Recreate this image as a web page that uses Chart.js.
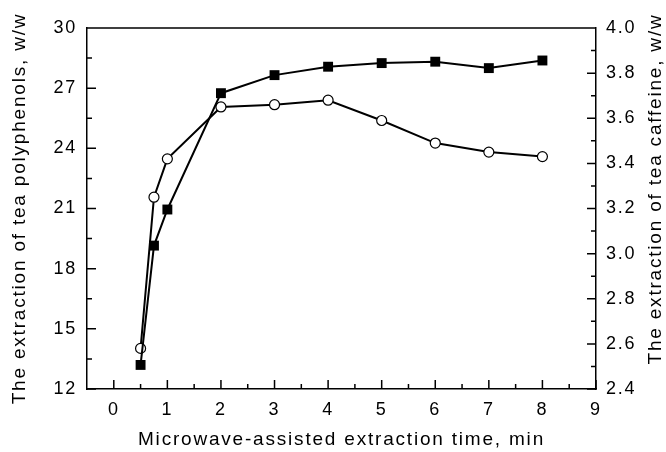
<!DOCTYPE html>
<html>
<head>
<meta charset="utf-8">
<script src="https://cdn.jsdelivr.net/npm/chart.js@4"></script>
<style>
  html, body { margin: 0; padding: 0; background: #fff; }
  #wrap { width: 666px; height: 452px; }
</style>
</head>
<body>
<div id="wrap"><canvas id="chart"></canvas></div>
<script>
// extraction time, min
var times = [0.5, 0.75, 1, 2, 3, 4, 5, 6, 7, 8];
// filled squares, left axis
var polyphenols = [13.2, 19.15, 20.95, 26.75, 27.65, 28.07, 28.25, 28.32, 28.0, 28.38];
// open circles, right axis
var caffeine = [2.58, 3.25, 3.42, 3.65, 3.66, 3.68, 3.59, 3.49, 3.45, 3.43];

var xTicks = [0, 1, 2, 3, 4, 5, 6, 7, 8, 9];
var leftTicks = [12, 15, 18, 21, 24, 27, 30];
var rightTicks = [2.4, 2.6, 2.8, 3.0, 3.2, 3.4, 3.6, 3.8, 4.0];

var FONT = 'Liberation Sans, Arial, sans-serif';
var SPACING = '1.8px';

function toPoints(xs, ys) {
    return xs.map(function (x, i) { return { x: x, y: ys[i] }; });
}

function useTicks(list) {
    return function (scale) {
        scale.ticks = list.map(function (v) { return { value: v }; });
    };
}

// the original lettering is set rather loose
var spacingPlugin = {
    id: 'spacing',
    beforeLayout: function (chart) { chart.ctx.letterSpacing = SPACING; },
    beforeDraw: function (chart) { chart.ctx.letterSpacing = SPACING; }
};

// inward tick marks, minor ticks halfway, top frame line, right title
var framePlugin = {
    id: 'frame',
    afterDraw: function (chart) {
        var c = chart.ctx;
        var a = chart.chartArea;
        var sx = chart.scales.x, sl = chart.scales.y, sr = chart.scales.y2;
        c.save();
        c.strokeStyle = '#000';
        c.lineWidth = 1.5;
        c.beginPath();
        c.moveTo(a.left, a.top);
        c.lineTo(a.right, a.top);

        function marks(scale, list, draw) {
            for (var i = 0; i < list.length; i++) {
                draw(scale.getPixelForValue(list[i]), 9);
                if (i < list.length - 1) {
                    draw(scale.getPixelForValue((list[i] + list[i + 1]) / 2), 5);
                }
            }
        }
        marks(sx, xTicks, function (p, len) {
            c.moveTo(p, a.bottom);
            c.lineTo(p, a.bottom - len);
        });
        marks(sl, leftTicks, function (p, len) {
            c.moveTo(a.left, p);
            c.lineTo(a.left + len, p);
        });
        marks(sr, rightTicks, function (p, len) {
            c.moveTo(a.right, p);
            c.lineTo(a.right - len, p);
        });
        c.stroke();

        c.fillStyle = '#000';
        c.font = '19px ' + FONT;
        c.textAlign = 'center';
        c.textBaseline = 'middle';
        c.translate(656, 189);
        c.rotate(-Math.PI / 2);
        c.fillText('The extraction of tea caffeine, w/w', 0, 0);
        c.restore();
    }
};

new Chart(document.getElementById('chart'), {
    type: 'line',
    data: {
        datasets: [{
            label: 'Tea polyphenols',
            data: toPoints(times, polyphenols),
            yAxisID: 'y',
            borderColor: '#000',
            borderWidth: 2,
            pointStyle: 'rect',
            pointRadius: 7,
            pointBackgroundColor: '#000',
            pointBorderColor: '#000',
            pointBorderWidth: 0,
            tension: 0
        }, {
            label: 'Tea caffeine',
            data: toPoints(times, caffeine),
            yAxisID: 'y2',
            borderColor: '#000',
            borderWidth: 2,
            pointStyle: 'circle',
            pointRadius: 5,
            pointBackgroundColor: '#fff',
            pointBorderColor: '#000',
            pointBorderWidth: 1.2,
            tension: 0
        }]
    },
    options: {
        responsive: true,
        maintainAspectRatio: false,
        animation: false,
        layout: { padding: { top: 28, left: 0, right: 0, bottom: 0 } },
        plugins: {
            legend: { display: false },
            tooltip: { enabled: false }
        },
        scales: {
            x: {
                type: 'linear',
                min: -0.5,
                max: 9,
                afterBuildTicks: useTicks(xTicks),
                afterFit: function (s) { s.height = 63; },
                grid: { display: false, drawTicks: false },
                border: { display: true, color: '#000', width: 1.5 },
                ticks: {
                    color: '#000',
                    padding: 10,
                    maxRotation: 0,
                    font: { family: FONT, size: 18 }
                },
                title: {
                    display: true,
                    text: 'Microwave-assisted extraction time, min',
                    color: '#000',
                    font: { family: FONT, size: 19 },
                    padding: { top: 0, bottom: 1 }
                }
            },
            y: {
                position: 'left',
                min: 12,
                max: 30,
                afterBuildTicks: useTicks(leftTicks),
                afterFit: function (s) { s.width = 87; },
                grid: { display: false, drawTicks: false },
                border: { display: true, color: '#000', width: 1.5 },
                ticks: {
                    color: '#000',
                    padding: 10,
                    font: { family: FONT, size: 18 }
                },
                title: {
                    display: true,
                    text: 'The extraction of tea polyphenols, w/w',
                    color: '#000',
                    font: { family: FONT, size: 19 },
                    padding: { top: 8, bottom: 0 }
                }
            },
            y2: {
                position: 'right',
                min: 2.4,
                max: 4.0,
                afterBuildTicks: useTicks(rightTicks),
                afterFit: function (s) { s.width = 70; },
                grid: { display: false, drawTicks: false },
                border: { display: true, color: '#000', width: 1.5 },
                ticks: {
                    color: '#000',
                    padding: 10,
                    font: { family: FONT, size: 18 },
                    callback: function (v) { return Number(v).toFixed(1); }
                }
            }
        }
    },
    plugins: [spacingPlugin, framePlugin]
});
</script>
</body>
</html>
